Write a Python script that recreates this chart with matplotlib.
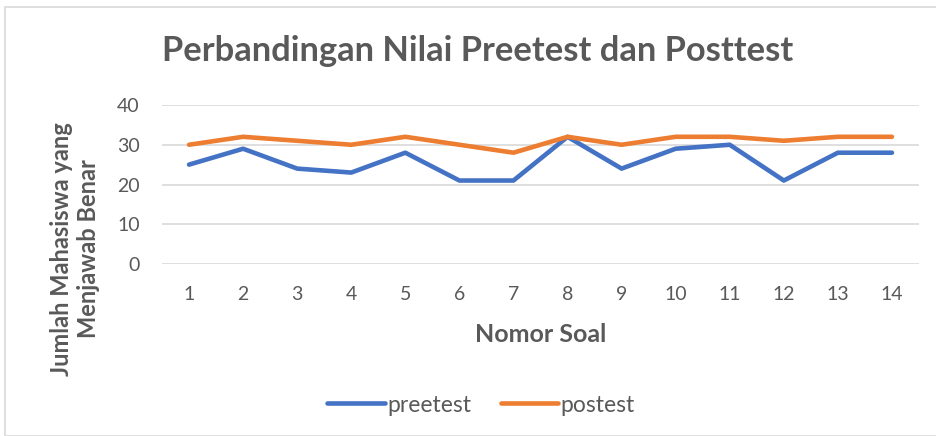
import matplotlib.pyplot as plt
from matplotlib.patches import Rectangle

plt.rcParams['font.family'] = ['Lato', 'DejaVu Sans']

soal = ['1', '2', '3', '4', '5', '6', '7', '8', '9', '10', '11', '12', '13', '14']
preetest = [25, 29, 24, 23, 28, 21, 21, 32, 24, 29, 30, 21, 28, 28]
postest = [30, 32, 31, 30, 32, 30, 28, 32, 30, 32, 32, 31, 32, 32]

grey = '#595959'

fig = plt.figure(figsize=(9.36, 4.36), dpi=100)
# chart border
fig.patches.append(Rectangle((5 / 936, 0), 1, 1 - 7 / 436, transform=fig.transFigure,
                             fill=False, edgecolor='#D9D9D9', linewidth=1.2))

ax = fig.add_axes([162 / 936, 1 - 264 / 436, (919 - 162) / 936, (264 - 105) / 436])
x = range(len(soal))
ax.plot(x, preetest, color='#4472C4', linewidth=3.3, solid_capstyle='round', label='preetest')
ax.plot(x, postest, color='#ED7D31', linewidth=3.3, solid_capstyle='round', label='postest')

ax.set_xlim(-0.5, len(soal) - 0.5)
ax.set_ylim(0, 40)
ax.set_yticks([0, 10, 20, 30, 40])
ax.set_xticks(list(x))
ax.set_xticklabels(soal)
ax.grid(True, axis='y', color='#D9D9D9', linewidth=1.2)
ax.set_axisbelow(True)
for s in ax.spines.values():
    s.set_visible(False)
ax.tick_params(length=0, labelsize=14, labelcolor=grey)
ax.tick_params(axis='x', pad=16)
ax.tick_params(axis='y', pad=16)

ax.set_xlabel('Nomor Soal', fontsize=18, fontweight='bold', color=grey, labelpad=14)
fig.text(75 / 936, 1 - 249 / 436, 'Jumlah Mahasiswa yang\nMenjawab Benar', rotation=90,
         ha='center', va='center', multialignment='center', fontsize=17,
         fontweight='bold', color=grey, linespacing=1.2)

fig.text(478 / 936, 1 - 51 / 436, 'Perbandingan Nilai Preetest dan Posttest', ha='center',
         va='center', fontsize=24.8, fontweight='bold', color=grey)

leg = fig.legend(loc='center', bbox_to_anchor=(481 / 936, 1 - 405 / 436), ncol=2, frameon=False,
                 fontsize=16.5, handlelength=2.5, handletextpad=0.1, columnspacing=1.3)
for t in leg.get_texts():
    t.set_color(grey)

fig.savefig('out.png', dpi=100)
